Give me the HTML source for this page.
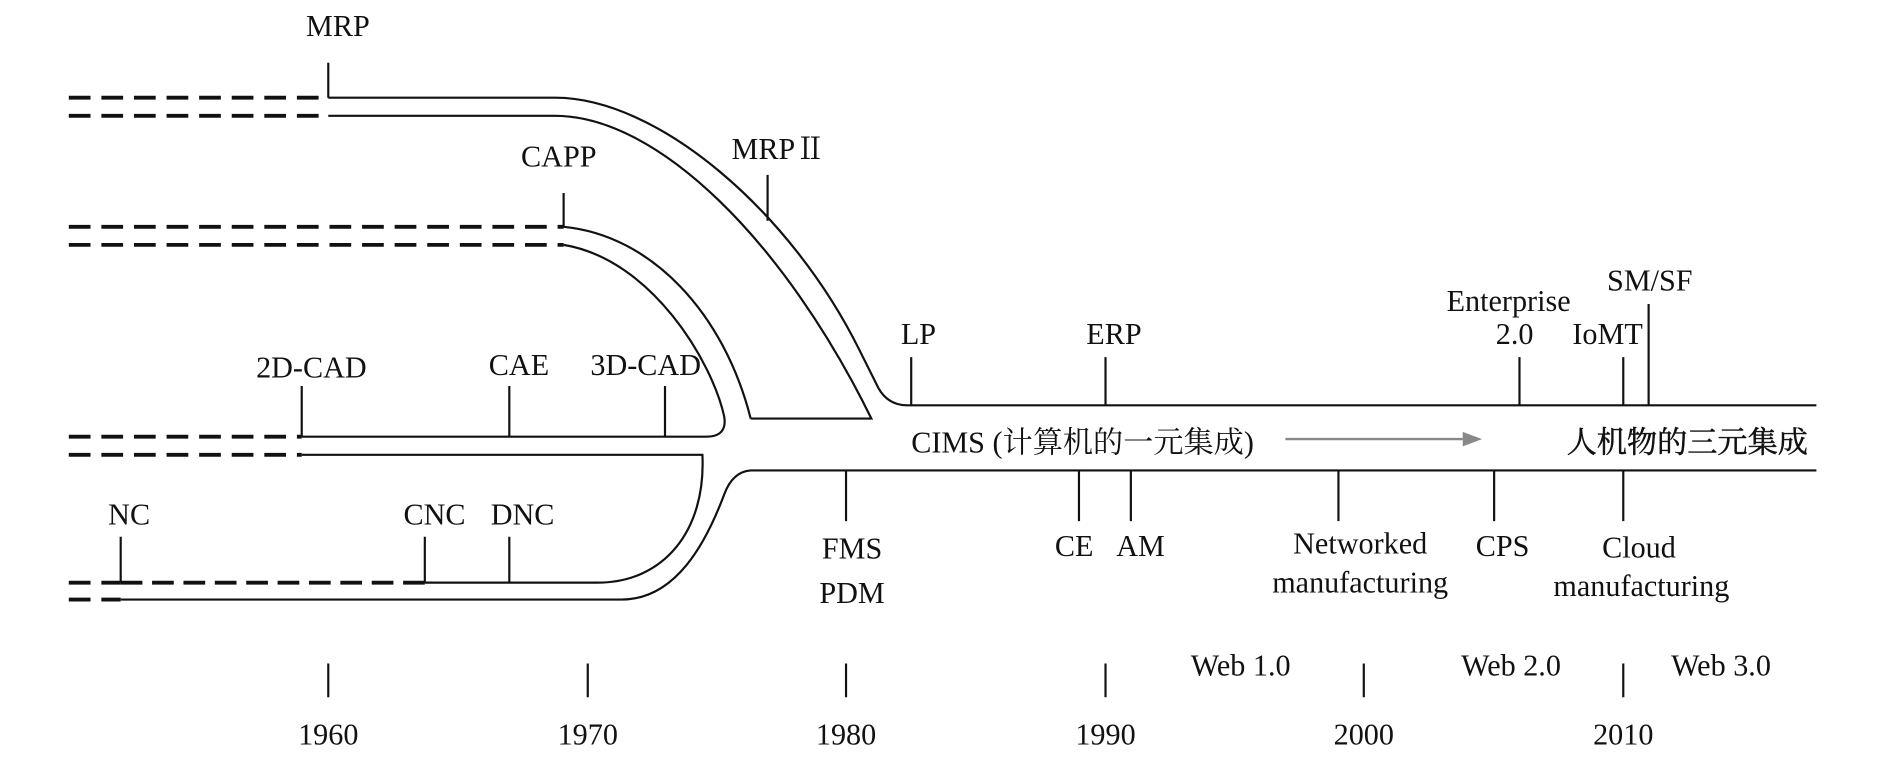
<!DOCTYPE html>
<html><head><meta charset="utf-8"><style>
html,body{margin:0;padding:0;background:#fff;}
svg{display:block;}
text{font-family:"Liberation Serif","Noto Serif CJK SC",serif;font-size:25px;fill:#111;}
.c{text-anchor:middle;}
</style></head><body>
<svg width="1890" height="766" viewBox="0 0 1566 635" preserveAspectRatio="none">
<g fill="none" stroke="#111" stroke-width="1.8">
<g stroke-width="3.2" stroke-dasharray="18,9">
<path d="M57,81H272M57,96H272"/>
<path d="M57,188H467M57,203H467"/>
<path d="M57,362H250M57,377H250"/>
<path d="M57,483H100M57,497H100"/>
<path d="M100,483H352" stroke-dasharray="18,8"/>
</g>
<path d="M272,81H460C545,81 655,175 712,290L728,322Q736,336 752,336H1505"/>
<path d="M272,96H460C545,96 650,200 722,347H622"/>
<path d="M622,347C600,260 540,195 467,188"/>
<path d="M467,203C540,215 590,300 600,345Q603,362 585,362H250"/>
<path d="M250,377H582C585,440 550,483 495,483H352"/>
<path d="M100,497H515C560,497 585,450 600,410Q607,391 622,390H1505"/>
<path d="M272,52V81M467,160V188M636,145V183M250,320V362M422,320V362M551,320V362M100,445V483M352,445V483M422,445V483M755,296V336M916,296V336M1259,296V336M1345,296V336M1366,252V336"/>
<path d="M701,390V432M894,390V432M937,390V432M1109,390V432M1238,390V432M1345,390V432"/>
<path d="M272,550V578M487,550V578M701,550V578M916,550V578M1130,550V578M1345,550V578"/>
</g>
<path d="M1065,364H1212" stroke="#888" stroke-width="2"/>
<path d="M1212,358L1228,364L1212,370Z" fill="#888"/>
<text class="c" x="280" y="30">MRP</text>
<text class="c" x="463" y="138">CAPP</text>
<text class="c" x="645" y="132">MRPⅡ</text>
<text class="c" x="258" y="313">2D-CAD</text>
<text class="c" x="430" y="311">CAE</text>
<text class="c" x="535" y="311">3D-CAD</text>
<text class="c" x="107" y="435">NC</text>
<text class="c" x="360" y="435">CNC</text>
<text class="c" x="433" y="435">DNC</text>
<text class="c" x="761" y="285">LP</text>
<text class="c" x="923" y="285">ERP</text>
<text class="c" x="1250" y="258">Enterprise</text>
<text class="c" x="1255" y="285">2.0</text>
<text class="c" x="1332" y="285">IoMT</text>
<text class="c" x="1367" y="241">SM/SF</text>
<text x="755" y="375">CIMS (计算机的一元集成)</text>
<text x="1498" y="375" text-anchor="end" style="stroke:#111;stroke-width:0.4">人机物的三元集成</text>
<text class="c" x="706" y="463">FMS</text>
<text class="c" x="706" y="500">PDM</text>
<text class="c" x="890" y="461">CE</text>
<text class="c" x="945" y="461">AM</text>
<text class="c" x="1127" y="459">Networked</text>
<text class="c" x="1127" y="491">manufacturing</text>
<text class="c" x="1245" y="461">CPS</text>
<text class="c" x="1358" y="462">Cloud</text>
<text class="c" x="1360" y="494">manufacturing</text>
<text class="c" x="1028" y="560">Web 1.0</text>
<text class="c" x="1252" y="560">Web 2.0</text>
<text class="c" x="1426" y="560">Web 3.0</text>
<text class="c" x="272" y="617">1960</text>
<text class="c" x="487" y="617">1970</text>
<text class="c" x="701" y="617">1980</text>
<text class="c" x="916" y="617">1990</text>
<text class="c" x="1130" y="617">2000</text>
<text class="c" x="1345" y="617">2010</text>
</svg>
</body></html>
